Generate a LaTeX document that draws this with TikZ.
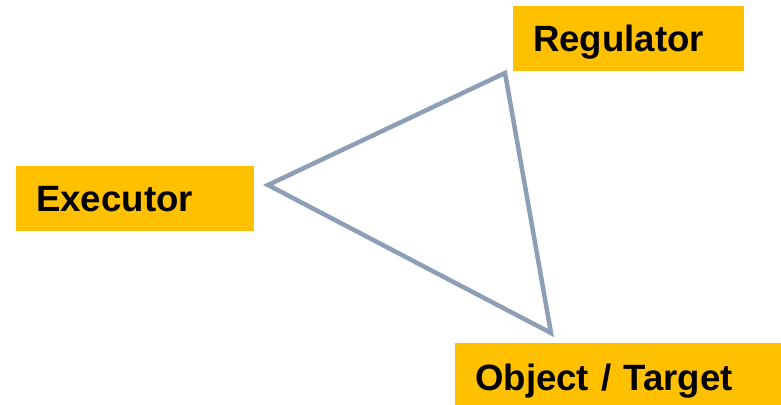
\documentclass[tikz,border=0pt]{standalone}
\usepackage{fontspec}
\setmainfont{Liberation Sans}
\usetikzlibrary{positioning}
\definecolor{tagfill}{HTML}{FFC000}
\definecolor{edgecol}{HTML}{8D9FB7}

\begin{document}
\begin{tikzpicture}[x=1pt, y=-1pt,
    tag/.style={rectangle, fill=tagfill, anchor=north west, inner xsep=20pt,
    inner ysep=0pt, align=left, text height=26pt, text depth=0pt,
    font=\fontsize{36.6}{40}\selectfont\bfseries},
    edge/.style={draw=edgecol, line width=4.5pt, line join=miter}]

  \useasboundingbox (0,0) rectangle (781,404);

  \node[tag, text width=191pt, minimum height=65pt] (R) at (513,6) {Regulator};
  \node[tag, text width=198pt, minimum height=65pt] (E) at (16,166) {Executor};
  \node[tag, text width=286pt, minimum height=68pt] (O) at (455,343) {Object / Target};

  \coordinate (A) at (268,185);
  \coordinate (B) at (505,73);
  \coordinate (C) at (551,333);
  \draw[edge] (A) -- (B) -- (C) -- cycle;
\end{tikzpicture}
\end{document}
